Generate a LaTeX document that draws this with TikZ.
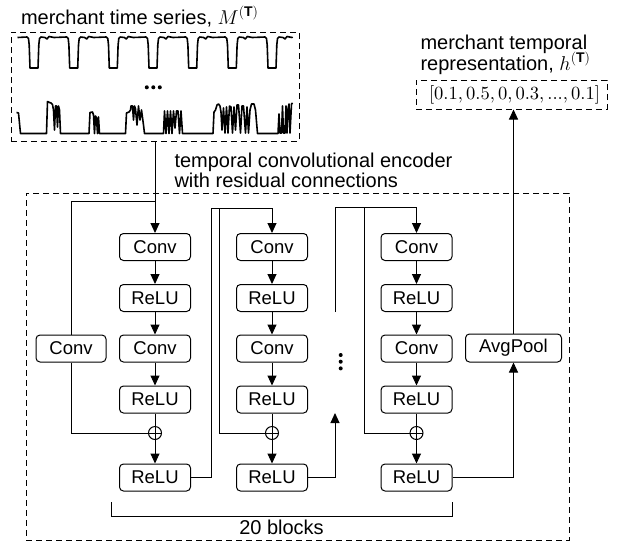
\RequirePackage{fix-cm}
\documentclass[tikz,border=0pt]{standalone}
\usepackage{graphicx}
\usepackage{fontspec}
\setmainfont{Liberation Sans}
\usetikzlibrary{arrows.meta,calc}
\begin{document}
\begin{tikzpicture}[x=1pt,y=-1pt,line width=1pt,
  blk/.style={draw, rounded corners=4pt, minimum width=71pt, minimum height=27pt, inner sep=0pt, font=\fontsize{18.5}{20}\selectfont},
  arr/.style={-{Triangle[length=10pt,width=9pt]}},
  plus/.style={circle, draw, minimum size=13pt, inner sep=0pt, fill=white,
    path picture={\draw[line width=1pt] (path picture bounding box.north) -- (path picture bounding box.south) (path picture bounding box.west) -- (path picture bounding box.east);}},
  dbox/.style={draw, dash pattern=on 6pt off 4pt, inner sep=0pt},
  lbl/.style={font=\fontsize{20}{20}\selectfont, inner sep=0pt, anchor=base west},
  ser/.style={line width=1.6pt, line join=round},
  dotc/.style={circle, fill, inner sep=0pt, minimum size=4pt}]
\useasboundingbox (0,0) rectangle (618,544);

% ---- input time series ----
\node[lbl] (t1) at (20.5,24) {merchant time series, $M^{(\mathbf{T})}$};
\node[dbox, minimum width=288pt, minimum height=109pt] (ts) at (155,86.5) {};
\draw[ser] (17.5,37.5) \foreach \c in {34,73.7,113.3,153,192.7,232.3,272} {
   -- (\c-7,37) -- (\c-5.5,38.5) -- (\c-4.8,45) -- (\c-4,68) -- (\c+4,68) -- (\c+4.8,45) -- (\c+5.5,38.5) -- (\c+7,37)
   -- (\c+11,37.5) -- (\c+13,39) -- (\c+15,36.5) -- (\c+20,37.5) } -- (292.5,37);
\node[dotc] (d1) at (146.8,87.3) {};
\node[dotc] (d2) at (153.3,87.3) {};
\node[dotc] (d3) at (159.8,87.3) {};
\draw[ser] (16.5,112.5) -- (18.5,113) -- (20.5,133.5) -- (46.5,133.5) -- (47.5,101.5) -- (49.5,102.5) -- (51,103) -- (52.5,104.5) -- (53.5,110) -- (54.5,130) -- (55.5,106) -- (56.5,106) -- (57.5,127) -- (58.5,106) -- (59.5,110) -- (60.5,133.5)
 -- (89,133.5) -- (90,112.5) -- (92.5,112) -- (93.5,115) -- (94.5,133.5) -- (95.5,116) -- (96.5,118) -- (97.5,133.5) -- (98.5,117) -- (99.5,133.5)
 -- (125.5,133.5) -- (126.5,113) -- (129,112) -- (130.5,110) -- (131,106) -- (132.5,106) -- (133.5,120) -- (134.5,106) -- (135.5,109) -- (137,125) -- (138.5,106) -- (140,120) -- (141.5,110) -- (143.5,125) -- (144.5,133.5)
 -- (163.5,133.5) -- (164.5,111) -- (166,133.5) -- (167.5,111) -- (169,133.5) -- (170.5,111) -- (172,133.5) -- (173.5,111) -- (175,128) -- (176.5,111) -- (178,111) -- (179.5,133.5) -- (181,111) -- (182.5,133.5)
 -- (213,133.5) -- (214,112) -- (215.5,110) -- (217,105) -- (218.5,104) -- (220,106) -- (221,112) -- (222,130) -- (223.5,108) -- (225,133) -- (226.5,107) -- (228,133) -- (229.5,106) -- (231,107) -- (232.5,133) -- (234,107) -- (235.5,130) -- (237,105) -- (238.5,105) -- (240.5,133) -- (242,106) -- (243.5,106) -- (245.5,133) -- (247,107) -- (248.5,133) -- (250,110) -- (251.5,104) -- (254,104) -- (255.5,110) -- (257.5,133.5)
 -- (278,133.5) -- (279,114) -- (280,133) -- (281.5,133) -- (282.5,106) -- (283.5,133) -- (285,133) -- (286,106) -- (287,133) -- (288,109) -- (289,104) -- (290,133) -- (291.5,104) -- (292.5,103);

% ---- output representation ----
\node[lbl] (t2a) at (420,49) {merchant temporal};
\node[lbl] (t2b) at (420,70) {representation, $h^{(\mathbf{T})}$};
\node[dbox, minimum width=191pt, minimum height=29pt] (vec) at (511.5,94.5) {};
\node[inner sep=0pt] (vtxt) at (514.5,94.5) {\resizebox{171pt}{!}{$[0.1,0.5,0,0.3,...,0.1]$}};

% ---- encoder ----
\node[lbl] (t3a) at (174,167) {temporal convolutional encoder};
\node[lbl] (t3b) at (174,187) {with residual connections};
\node[dbox, minimum width=543pt, minimum height=347pt] (enc) at (297.5,366.5) {};

% block 1
\node[blk] (c1a) at (155,247) {Conv};
\node[blk] (r1a) at (155,298) {ReLU};
\node[blk] (c1b) at (155,348.5) {Conv};
\node[blk] (r1b) at (155,399.5) {ReLU};
\node[plus] (p1) at (155,433) {};
\node[blk] (o1) at (155,477.5) {ReLU};
\node[blk, minimum width=70pt] (lc) at (71,348.5) {Conv};
% block 2
\node[blk] (c2a) at (272,247) {Conv};
\node[blk] (r2a) at (272,298) {ReLU};
\node[blk] (c2b) at (272,348.5) {Conv};
\node[blk] (r2b) at (272,399.5) {ReLU};
\node[plus] (p2) at (272,433) {};
\node[blk] (o2) at (272,477.5) {ReLU};
% block 3
\node[blk] (c3a) at (416.5,247) {Conv};
\node[blk] (r3a) at (416.5,298) {ReLU};
\node[blk] (c3b) at (416.5,348.5) {Conv};
\node[blk] (r3b) at (416.5,399.5) {ReLU};
\node[plus] (p3) at (416.5,433) {};
\node[blk] (o3) at (416.5,477.5) {ReLU};
\node[blk, minimum width=96pt, minimum height=28pt] (ap) at (513.5,348) {AvgPool};

\node[dotc] (v1) at (340.7,355) {};
\node[dotc] (v2) at (340.7,361.7) {};
\node[dotc] (v3) at (340.7,368.4) {};

% connections block 1
\coordinate (k1) at (155,201);
\draw[arr] (ts.south) -- (c1a);
\draw (k1) -| (lc.north);
\draw (lc.south) |- (p1.west);
\draw[arr] (c1a) -- (r1a);
\draw[arr] (r1a) -- (c1b);
\draw[arr] (c1b) -- (r1b);
\draw (r1b) -- (p1);
\draw[arr] (p1) -- (o1);
% block 2
\coordinate (j2) at (211,208);
\coordinate (k2) at (219,208);
\draw[arr] (o1.east) -| (j2) -| (c2a);
\draw (k2) |- (p2.west);
\draw[arr] (c2a) -- (r2a);
\draw[arr] (r2a) -- (c2b);
\draw[arr] (c2b) -- (r2b);
\draw (r2b) -- (p2);
\draw[arr] (p2) -- (o2);
% block 3
\coordinate (a3) at (335,413);
\coordinate (s3) at (335,312);
\coordinate (j3) at (335,207);
\coordinate (k3) at (364,207);
\draw[arr] (o2.east) -| (a3);
\draw[arr] (s3) -- (j3) -| (c3a);
\draw (k3) |- (p3.west);
\draw[arr] (c3a) -- (r3a);
\draw[arr] (r3a) -- (c3b);
\draw[arr] (c3b) -- (r3b);
\draw (r3b) -- (p3);
\draw[arr] (p3) -- (o3);
\draw[arr] (o3.east) -| (ap);
\draw[arr] (ap) -- (ap |- vec.south);

% bracket
\coordinate (bl) at (111,502);
\coordinate (br) at (452,502);
\draw (bl) -- ++(0,14.5) -| (br);
\node[font=\fontsize{20}{20}\selectfont, inner sep=0pt, anchor=base] (nb) at (281.5,534.5) {20 blocks};
\end{tikzpicture}
\end{document}
